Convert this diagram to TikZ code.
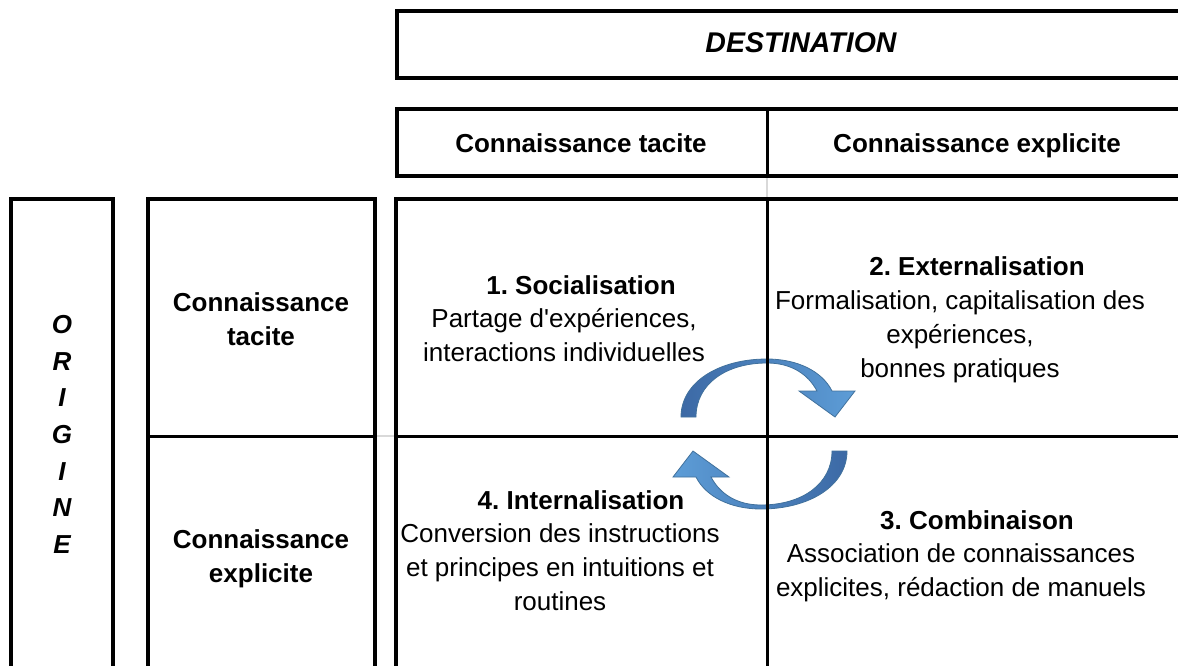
\documentclass[tikz,border=0pt]{standalone}
\usepackage{fontspec}
\setmainfont{Liberation Sans}
\frenchspacing

\definecolor{arrowdark}{RGB}{60,105,165}
\definecolor{arrowlight}{RGB}{93,157,215}
\definecolor{arrowedge}{RGB}{65,113,156}

\tikzset{
  frame/.style={line width=4.5pt},
  divider/.style={line width=3pt},
  faint/.style={gray!30,line width=2pt},
  cell/.style={align=center,inner sep=0pt,font=\fontsize{26}{34}\selectfont},
  headcell/.style={align=center,inner sep=0pt,font=\bfseries\fontsize{26}{34}\selectfont},
  title/.style={headcell,anchor=base},
  cyclearrow/.style={draw=arrowedge,line width=0.8pt},
}

\begin{document}
\begin{tikzpicture}[x=1pt,y=-1pt]
\useasboundingbox (0,0) rectangle (1178,666);

% circular arrows
\begin{scope}[shift={(764,434)}]
\path[cyclearrow,left color=arrowdark,right color=arrowlight]
  (-83,-17) .. controls (-83,-52) and (-45,-75) .. (3,-75)
  .. controls (33,-75) and (58,-63) .. (68,-43)
  -- (91,-43) -- (71,-17) -- (35,-43) -- (53,-43)
  .. controls (44,-60) and (27,-71) .. (3,-71)
  .. controls (-38,-71) and (-68,-50) .. (-68,-17) -- cycle;
\path[cyclearrow,left color=arrowlight,right color=arrowdark]
  (83,17) .. controls (83,52) and (45,75) .. (-3,75)
  .. controls (-33,75) and (-58,63) .. (-68,43)
  -- (-91,43) -- (-71,17) -- (-35,43) -- (-53,43)
  .. controls (-44,60) and (-27,71) .. (-3,71)
  .. controls (38,71) and (68,50) .. (68,17) -- cycle;
\end{scope}

% frames
\draw[frame] (397,11) rectangle (1187,78);
\draw[frame] (397,109) rectangle (1187,176);
\draw[divider] (767,109) -- (767,176);
\draw[frame] (11,199) rectangle (113,679);
\draw[frame] (148,199) rectangle (375,679);
\draw[divider] (148,436) -- (375,436);
\draw[frame] (396,199) rectangle (1187,679);
\draw[divider] (396,436) -- (1187,436);
\draw[divider] (767,199) -- (767,679);
\draw[faint] (767,178) -- (767,197);
\draw[faint] (377,436) -- (394,436);

% headings
\node[title,font=\bfseries\itshape\fontsize{28.5}{34}\selectfont] (dest) at (801,53) {DESTINATION};
\node[title] (headtacit) at (581,153) {Connaissance tacite};
\node[title] (headexplicit) at (977,153) {Connaissance explicite};
\node[headcell,font=\bfseries\itshape\fontsize{26}{36.7}\selectfont] (origine) at (62,434.5) {O\\R\\I\\G\\I\\N\\E};
\node[headcell] (rowtacit) at (261,319) {Connaissance\\tacite};
\node[headcell] (rowexplicit) at (261,559) {Connaissance\\explicite};

% the four modes
\node[title] (social) at (581,294) {1. Socialisation};
\node[cell] (socialtext) at (564,335) {Partage d\textquotesingle expériences,\\interactions individuelles};
\node[title] (extern) at (977,275) {2. Externalisation};
\node[cell] (externtext) at (960,337) {Formalisation, capitalisation des\\expériences,\\bonnes pratiques};
\node[title] (combin) at (977,529) {3. Combinaison};
\node[cell] (combintext) at (961,573) {Association de connaissances\\explicites, rédaction de manuels};
\node[title] (intern) at (581,509) {4. Internalisation};
\node[cell] (interntext) at (560,567) {Conversion des instructions\\et principes en intuitions et\\routines};
\end{tikzpicture}
\end{document}
